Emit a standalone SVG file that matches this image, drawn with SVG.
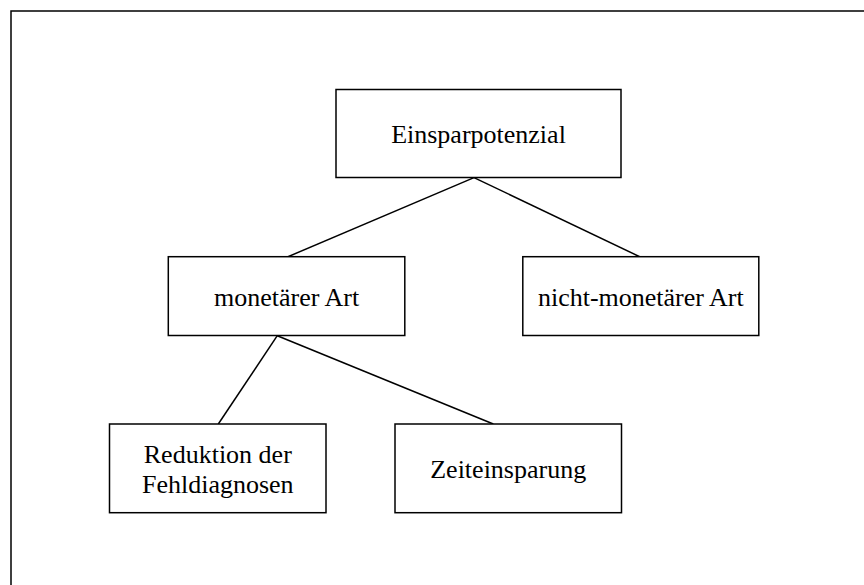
<svg xmlns="http://www.w3.org/2000/svg" width="864" height="585" viewBox="0 0 864 585">
<style>
.box{fill:#fff;stroke:#000;stroke-width:1.5}
.lbl{font-family:"Liberation Serif","Times New Roman",serif;font-size:26px;fill:#000;text-anchor:middle}
.con line{stroke:#000;stroke-width:1.5}
</style>
<rect width="864" height="585" fill="#fff"/>
<path d="M11,585 V11 H864" fill="none" stroke="#000" stroke-width="1.5"/>
<g id="connectors" class="con">
<line x1="474" y1="177.6" x2="288" y2="256.7"/>
<line x1="474" y1="177.6" x2="639.7" y2="256.7"/>
<line x1="277.3" y1="335.7" x2="218.3" y2="424"/>
<line x1="277.3" y1="335.7" x2="493.3" y2="424"/>
</g>
<g id="n_einsparpotenzial"><rect class="box" x="336" y="89.5" width="285" height="88"/><text class="lbl" x="478.5" y="143" font-size="26.5">Einsparpotenzial</text></g>
<g id="n_monetaer"><rect class="box" x="168.3" y="256.7" width="236.5" height="78.8"/><text class="lbl" x="286.6" y="306">monetärer Art</text></g>
<g id="n_nichtmonetaer"><rect class="box" x="522.8" y="256.7" width="236" height="78.8"/><text class="lbl" x="640.8" y="306">nicht-monetärer Art</text></g>
<g id="n_reduktion"><rect class="box" x="109.5" y="424" width="216.5" height="88.7"/><text class="lbl" x="217.8" y="463.3">Reduktion der</text><text class="lbl" x="217.8" y="493.3">Fehldiagnosen</text></g>
<g id="n_zeit"><rect class="box" x="395" y="424" width="226.5" height="88.7"/><text class="lbl" x="508.2" y="478">Zeiteinsparung</text></g>
</svg>
